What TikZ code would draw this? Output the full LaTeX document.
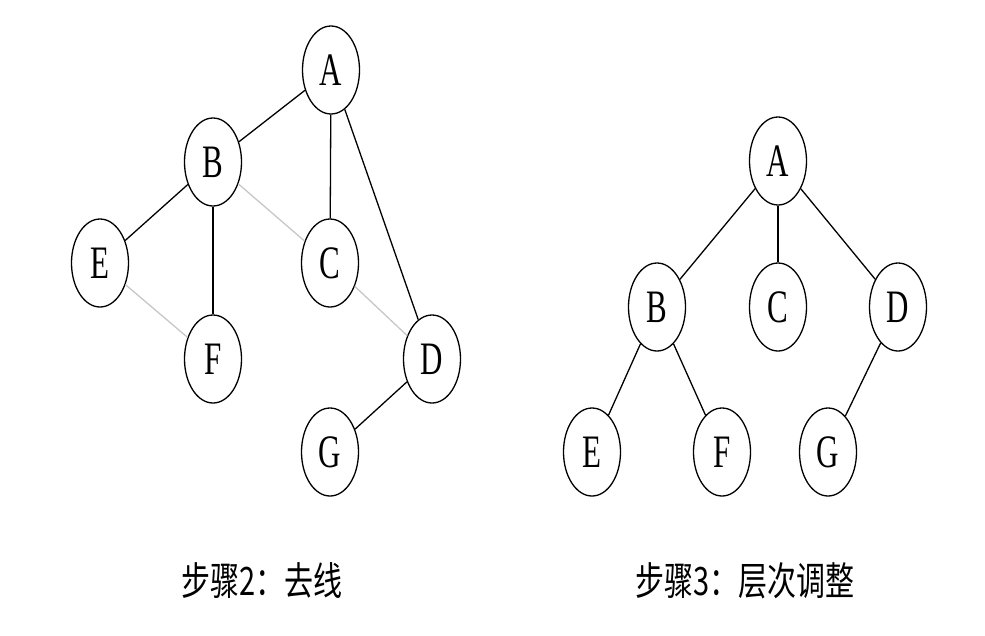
\documentclass[tikz,border=0pt]{standalone}
\usepackage{fontspec}
\usepackage{graphicx}
\setmainfont{Liberation Serif}
\newfontfamily\cjk{Noto Sans CJK SC}
\usetikzlibrary{shapes.geometric}
\begin{document}
\begin{tikzpicture}[x=1pt,y=-1pt,
vertex/.style = {draw,ellipse,line width=1.3pt,
        minimum width=57pt,minimum height=88pt,inner sep=0pt,
        font=\fontsize{31}{31}\selectfont},
edge/.style = {line width=1.3pt,black},
cutedge/.style = {line width=1.3pt,black!22},
caption/.style = {font=\cjk\fontsize{29}{29}\selectfont}]

        \useasboundingbox (0,0) rectangle (985,635);

        % step 2
        \node[vertex] (A_2) at ( 331, 70 ) {\scalebox{1}[1.5]{A}};
        \node[vertex] (B_2) at ( 213, 162 ) {\scalebox{1}[1.5]{B}};
        \node[vertex] (C_2) at ( 330, 263 ) {\scalebox{1}[1.5]{C}};
        \node[vertex] (D_2) at ( 432, 359 ) {\scalebox{1}[1.5]{D}};
        \node[vertex] (E_2) at ( 100, 263 ) {\scalebox{1}[1.5]{E}};
        \node[vertex] (F_2) at ( 213, 359 ) {\scalebox{1}[1.5]{F}};
        \node[vertex] (G_2) at ( 330, 452 ) {\scalebox{1}[1.5]{G}};
        \draw[edge] (A_2) -- (B_2);
        \draw[edge] (A_2) -- (C_2);
        \draw[edge] (A_2) -- (D_2);
        \draw[edge] (B_2) -- (E_2);
        \draw[edge] (B_2) -- (F_2);
        \draw[edge] (D_2) -- (G_2);
        \draw[cutedge] (B_2) -- (C_2);
        \draw[cutedge] (E_2) -- (F_2);
        \draw[cutedge] (C_2) -- (D_2);
        \node[caption] (T_2) at ( 262, 581 ) {\scalebox{1}[1.35]{步骤2：去线}};

        % step 3
        \node[vertex] (A_3) at ( 778, 161 ) {\scalebox{1}[1.5]{A}};
        \node[vertex] (B_3) at ( 657, 307 ) {\scalebox{1}[1.5]{B}};
        \node[vertex] (C_3) at ( 778, 307 ) {\scalebox{1}[1.5]{C}};
        \node[vertex] (D_3) at ( 898, 307 ) {\scalebox{1}[1.5]{D}};
        \node[vertex] (E_3) at ( 592, 452 ) {\scalebox{1}[1.5]{E}};
        \node[vertex] (F_3) at ( 722, 452 ) {\scalebox{1}[1.5]{F}};
        \node[vertex] (G_3) at ( 828, 452 ) {\scalebox{1}[1.5]{G}};
        \draw[edge] (A_3) -- (B_3);
        \draw[edge] (A_3) -- (C_3);
        \draw[edge] (A_3) -- (D_3);
        \draw[edge] (B_3) -- (E_3);
        \draw[edge] (B_3) -- (F_3);
        \draw[edge] (D_3) -- (G_3);
        \node[caption] (T_3) at ( 745, 581 ) {\scalebox{1}[1.35]{步骤3：层次调整}};

    \end{tikzpicture}
\end{document}
